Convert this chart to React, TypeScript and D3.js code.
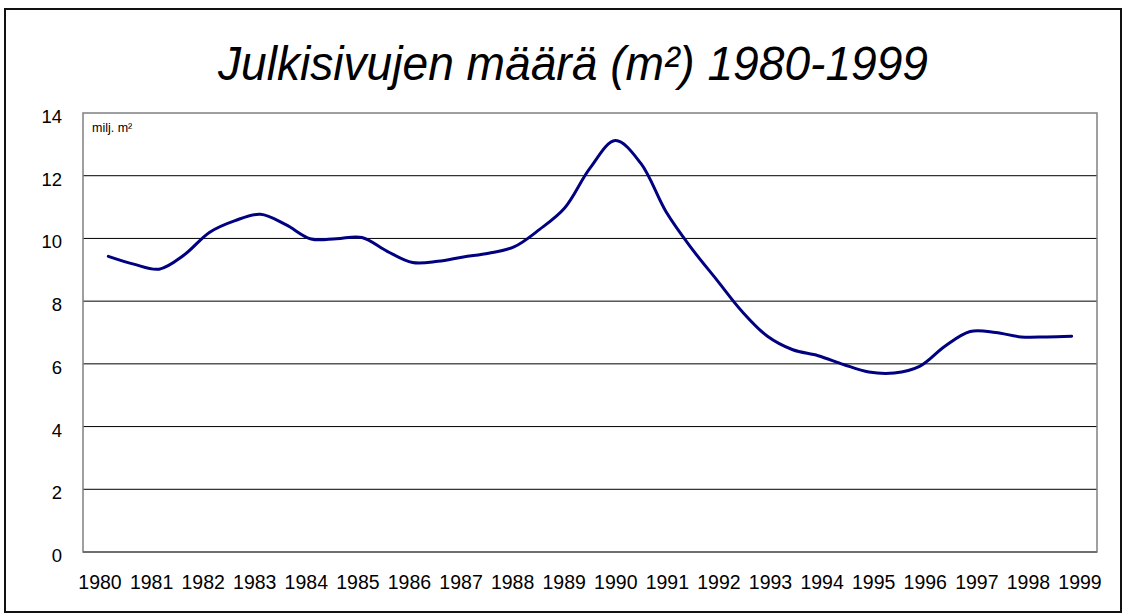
import React from "react";
import * as d3 from "d3";

const years: string[] = [
  "1980","1981","1982","1983","1984","1985","1986","1987","1988","1989",
  "1990","1991","1992","1993","1994","1995","1996","1997","1998","1999",
];

// half-year observations, 1980.0 ... 1999.0 (milj. m²)
const periods: number[] = [
  1980, 1980.5, 1981, 1981.5, 1982, 1982.5, 1983, 1983.5, 1984, 1984.5,
  1985, 1985.5, 1986, 1986.5, 1987, 1987.5, 1988, 1988.5, 1989, 1989.5,
  1990, 1990.5, 1991, 1991.5, 1992, 1992.5, 1993, 1993.5, 1994, 1994.5,
  1995, 1995.5, 1996, 1996.5, 1997, 1997.5, 1998, 1998.5, 1999,
];
const values: number[] = [
  9.43, 9.18, 9.02, 9.48, 10.2, 10.57, 10.77, 10.44, 9.98, 9.99,
  10.03, 9.59, 9.23, 9.27, 9.41, 9.53, 9.73, 10.28, 10.97, 12.24,
  13.12, 12.4, 10.85, 9.69, 8.68, 7.67, 6.88, 6.45, 6.26, 5.98,
  5.74, 5.71, 5.92, 6.56, 7.03, 7.0, 6.86, 6.86, 6.88,
];
const yTicks: number[] = [0, 2, 4, 6, 8, 10, 12, 14];

const W = 1126;
const H = 615;
const plot = { left: 83, right: 1097, top: 113, bottom: 552 };

export default function App() {
  const band = (plot.right - plot.left) / years.length;
  const x = d3
    .scaleLinear()
    .domain([1980, 1999])
    .range([plot.left + band / 2, plot.right - band / 2]);
  const xLab = d3
    .scalePoint<string>()
    .domain(years)
    .range([100, 1080]);
  const y = d3.scaleLinear().domain([0, 14]).range([plot.bottom, plot.top]);

  const line = d3
    .line<number>()
    .x((_, i) => x(periods[i]))
    .y((d) => y(d))
    .curve(d3.curveCatmullRom.alpha(0.5));

  const font = "'Liberation Sans', Arial, sans-serif";

  return (
    <div style={{ position: "fixed", left: 0, top: 0 }}>
      <svg width={W} height={H} style={{ display: "block" }}>
        <rect x={0} y={0} width={W} height={H} fill="#fff" />
        <rect x={5} y={9} width={W - 10} height={H - 12} fill="none" stroke="#111" strokeWidth={2} />
        <text
          x={573}
          y={80}
          textAnchor="middle"
          fontFamily={font}
          fontStyle="italic"
          fontSize={48}
          textLength={710}
          lengthAdjust="spacingAndGlyphs"
          fill="#000"
        >
          Julkisivujen määrä (m²) 1980-1999
        </text>
        {yTicks.filter((t) => t > 0 && t < 14).map((t) => (
          <line key={t} x1={plot.left} x2={plot.right} y1={y(t)} y2={y(t)} stroke="#000" strokeWidth={1} />
        ))}
        <rect
          x={plot.left}
          y={plot.top}
          width={plot.right - plot.left}
          height={plot.bottom - plot.top}
          fill="none"
          stroke="#808080"
          strokeWidth={1.5}
        />
        <line x1={plot.left} x2={plot.right} y1={plot.bottom} y2={plot.bottom} stroke="#707070" strokeWidth={2} />
        {yTicks.map((t) => (
          <text key={t} x={62} y={y(t) + 10} textAnchor="end" fontFamily={font} fontSize={18.5} fill="#000">
            {t}
          </text>
        ))}
        {years.map((yr) => (
          <text key={yr} x={xLab(yr)} y={589} textAnchor="middle" fontFamily={font} fontSize={19.5} fill="#000">
            {yr}
          </text>
        ))}
        <text x={92} y={132} fontFamily={font} fontSize={12.5} fill="#000">
          milj. m²
        </text>
        <path d={line(values) || ""} fill="none" stroke="#000080" strokeWidth={3} strokeLinejoin="round" strokeLinecap="round" />
      </svg>
    </div>
  );
}
